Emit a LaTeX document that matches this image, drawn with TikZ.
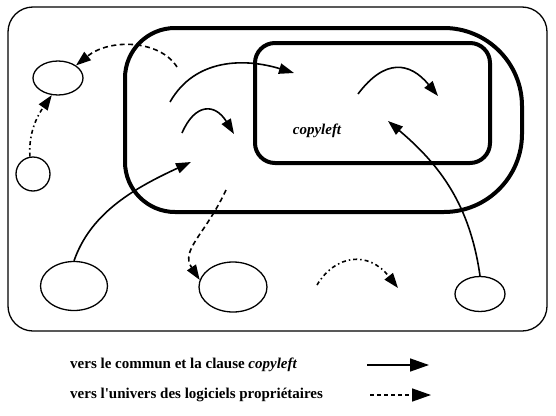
\documentclass[tikz,border=0pt]{standalone}
\usepackage{fontspec}
\setmainfont{Liberation Serif}
\usetikzlibrary{shapes.geometric,arrows.meta}
\begin{document}
\begin{tikzpicture}[x=1pt,y=-1pt,
  blob/.style={ellipse,draw,line width=1.3pt,inner sep=0pt},
  tip/.style={-{Triangle[length=15pt,width=10.5pt]}},
  solidarr/.style={line width=1.6pt,tip},
  dasharr/.style={line width=1.6pt,dash pattern=on 5pt off 3.5pt,tip},
  dotarr/.style={line width=1.6pt,dash pattern=on 4pt off 3pt on 1.5pt off 3pt,tip},
  heavy/.style={line width=4pt},
  legtip/.style={-{Triangle[length=19pt,width=13pt]}},
  legtext/.style={anchor=west,inner sep=0pt,font=\fontsize{15}{17}\selectfont\bfseries}]
\useasboundingbox (0,0) rectangle (556,415);
% frames
\draw[line width=1.3pt,rounded corners=25pt] (8,7) rectangle (547,331);
\draw[heavy] (175,28) -- (444,28)
  .. controls (487,28) and (522,63) .. (522,106) -- (522,134)
  .. controls (522,177) and (487,212) .. (444,212) -- (175,212)
  .. controls (147.5,212) and (125,189.5) .. (125,162) -- (125,78)
  .. controls (125,50.5) and (147.5,28) .. (175,28) -- cycle;
\draw[heavy,rounded corners=20pt] (255,43) rectangle (490,163);
\node[font=\fontsize{15}{17}\selectfont\bfseries\itshape] (cl) at (317,131) {copyleft};
% ellipses
\node[blob,minimum width=50pt,minimum height=34pt] (e1) at (58,78) {};
\node[blob,minimum width=34pt,minimum height=34pt] (e2) at (33,174) {};
\node[blob,minimum width=67pt,minimum height=49pt] (e3) at (74,286) {};
\node[blob,minimum width=68pt,minimum height=50pt] (e4) at (233,287) {};
\node[blob,minimum width=50pt,minimum height=35pt] (e5) at (480,294) {};
% free ends
\coordinate (a1) at (177,67);
\coordinate (a3s) at (170,102); \coordinate (a3e) at (294,73);
\coordinate (a4s) at (182,133); \coordinate (a4e) at (234,134);
\coordinate (a5s) at (358,94); \coordinate (a5e) at (438,96);
\coordinate (a6e) at (388,121);
\coordinate (a7e) at (191,162);
\coordinate (a8s) at (226,190);
\coordinate (a9s) at (317,285); \coordinate (a9e) at (398,288);
% arrows
\draw[dasharr] (a1) .. controls (160,40) and (110,38) .. (e1.35);
\draw[dotarr] (e2.100) .. controls (28,130) and (40,112) .. (e1.250);
\draw[solidarr] (a3s) .. controls (195,58) and (245,58) .. (a3e);
\draw[solidarr] (a4s) .. controls (195,103) and (215,103) .. (a4e);
\draw[solidarr] (a5s) .. controls (385,58) and (410,62) .. (a5e);
\draw[solidarr] (e5.north) .. controls (470,205) and (440,165) .. (a6e);
\draw[solidarr] (e3.north) .. controls (90,215) and (130,190) .. (a7e);
\draw[dasharr] (a8s) .. controls (205,235) and (180,250) .. (e4.168);
\draw[dotarr] (a9s) .. controls (335,255) and (368,250) .. (a9e);
% legend
\node[legtext] (l1) at (70,365) {vers le commun et la clause \textit{copyleft}};
\node[legtext] (l2) at (70,395) {vers l\textquotesingle univers des logiciels propriétaires};
\coordinate (s1) at (367,365); \coordinate (t1) at (429,365);
\coordinate (s2) at (370,395); \coordinate (t2) at (431,395);
\draw[line width=1.5pt,legtip] (s1) -- (t1);
\draw[line width=1.5pt,dash pattern=on 4pt off 3pt,legtip] (s2) -- (t2);
\end{tikzpicture}
\end{document}
